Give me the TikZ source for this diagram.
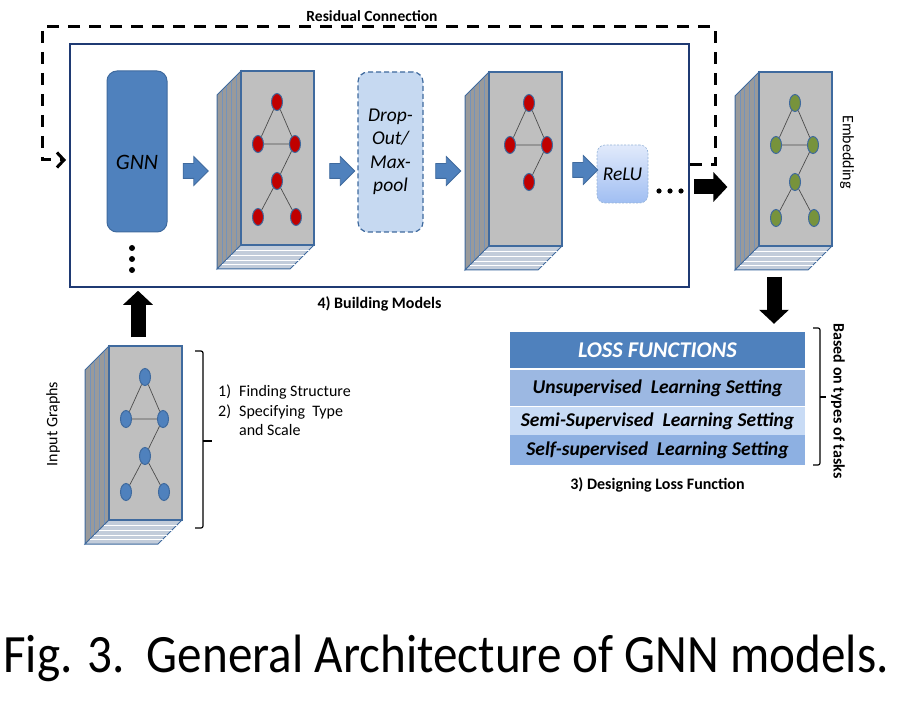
\documentclass[tikz,border=0pt]{standalone}
\usepackage{fontspec}
\usepackage{graphicx}
\setmainfont{Carlito}
\usepackage{tikz}
\usetikzlibrary{arrows.meta,positioning,shapes.geometric,shapes.arrows}
\definecolor{gnnblue}{HTML}{4F81BD}
\definecolor{edgeblue}{HTML}{3F6A9E}
\definecolor{navy}{HTML}{1F3A73}
\definecolor{facegray}{HTML}{BFBFBF}
\definecolor{sidegray}{HTML}{9A9A9A}
\definecolor{sidestripe}{HTML}{7393BC}
\definecolor{floorgray}{HTML}{C2CCDA}
\definecolor{nodered}{HTML}{C00000}
\definecolor{nodegreen}{HTML}{77933C}
\definecolor{dropfill}{HTML}{C6D9F1}
\definecolor{relutop}{HTML}{E1EAFB}
\definecolor{relubottom}{HTML}{A0BEF2}
\definecolor{lossrowa}{HTML}{9CB8E2}
\definecolor{lossrowb}{HTML}{C8DBF5}
\definecolor{lossrowc}{HTML}{8DB0E2}
\tikzstyle{front}=[draw=edgeblue, fill=facegray, line width=1.2pt, minimum width=73pt, minimum height=174pt, inner sep=0]
\tikzstyle{vtx}=[ellipse, draw=edgeblue, line width=1pt, inner sep=0, minimum width=11pt, minimum height=17pt]
\tikzstyle{gedge}=[draw=black!70, line width=0.7pt]
\tikzstyle{gnnbox}=[draw=edgeblue, fill=gnnblue, line width=1pt, rounded corners=10pt, minimum width=60pt, minimum height=161pt]
\tikzstyle{dropbox}=[draw=edgeblue, fill=dropfill, line width=1.2pt, dash pattern=on 5pt off 3pt, rounded corners=10pt, minimum width=65pt, minimum height=160pt, align=center, font=\itshape\fontsize{19.5}{23.5}\selectfont]
\tikzstyle{relubox}=[draw=gnnblue!60, dash pattern=on 2pt off 1.5pt, line width=0.6pt, top color=relutop, bottom color=relubottom, rounded corners=8pt, minimum width=51pt, minimum height=58pt, font=\itshape\fontsize{19.5}{22}\selectfont]
\tikzstyle{bluearrow}=[single arrow, draw=edgeblue, fill=gnnblue, line width=0.8pt, minimum height=25pt, minimum width=28pt, single arrow head extend=7pt, inner xsep=0, inner ysep=7pt]
\tikzstyle{fatarrow}=[line width=15pt, -{Triangle[width=29pt,length=14pt]}]
\tikzstyle{resid}=[line width=3pt, dash pattern=on 12pt off 9pt, -{Straight Barb[length=7pt,width=15pt]}]
\tikzstyle{label}=[inner sep=0, font=\fontsize{16}{19}\selectfont]
\tikzstyle{boldlabel}=[inner sep=0, font=\bfseries\fontsize{16}{19}\selectfont]
\tikzstyle{losshead}=[fill=gnnblue, text=white, inner sep=0, minimum width=295pt, minimum height=37pt, font=\bfseries\itshape\fontsize{22.5}{26}\selectfont]
\tikzstyle{lossrow}=[inner sep=0, minimum width=295pt, font=\bfseries\itshape\fontsize{19.5}{22}\selectfont]
\tikzstyle{brace}=[line width=1.2pt, rounded corners=2pt]
\newcommand{\stackfaces}[1]{%
  \filldraw[fill=sidegray, draw=edgeblue, line width=1pt] (-24,24) -- (0,0) -- (0,174) -- (-24,198) -- cycle;
  \foreach \d in {5,10,15,19} \draw[sidestripe, line width=0.8pt] (-\d,\d) -- (-\d,174+\d);
  \filldraw[fill=floorgray, draw=edgeblue, line width=1pt] (0,174) -- (73,174) -- (49,198) -- (-24,198) -- cycle;
  \foreach \d in {5,10,15,19} \draw[white, line width=0.8pt] (-\d,174+\d) -- (73-\d,174+\d);
  \node[front] (#1) at (36.5,87) {};
}
\newcommand{\graphnodes}[2]{%
  \node[vtx, fill=#2] (#1t) at (36,31) {};
  \node[vtx, fill=#2] (#1l) at (17,73) {};
  \node[vtx, fill=#2] (#1r) at (54,73) {};
  \node[vtx, fill=#2] (#1m) at (36,110) {};
  \draw[gedge] (#1t) -- (#1l) -- (#1r) -- (#1t) (#1r) -- (#1m);
}
\newcommand{\graphtail}[2]{%
  \node[vtx, fill=#2] (#1a) at (17,146) {};
  \node[vtx, fill=#2] (#1b) at (55,146) {};
  \draw[gedge] (#1m) -- (#1a) (#1m) -- (#1b);
}
\begin{document}
\begin{tikzpicture}[x=1pt,y=-1pt,font=\fontsize{16}{19}\selectfont]
\useasboundingbox (0,0) rectangle (915,703);

\node[draw=navy, line width=1.5pt, minimum width=619pt, minimum height=243pt] (model) at (379.5,165.5) {};
\node[boldlabel, below=9pt of model] (build) {4) Building Models};

\node[gnnbox] (gnn) at (137,151.5) {};
\node[font=\itshape\fontsize{22}{26}\selectfont] (gnntxt) at (137,162) {GNN};
\foreach \y in {248,259,270} \fill (132,\y) circle (3);

\begin{scope}[shift={(241,71)}]
  \stackfaces{sa}
  \graphnodes{a}{nodered}
  \graphtail{a}{nodered}
\end{scope}

\node[dropbox] (drop) at (390.5,152) {Drop-\\Out/\\Max-\\pool};

\begin{scope}[shift={(489,72)}]
  \stackfaces{sb}
  \begin{scope}[shift={(4,0)}]
    \graphnodes{b}{nodered}
  \end{scope}
\end{scope}

\node[relubox] (relu) at (622.5,174) {ReLU};
\foreach \x in {659,670,681} \fill (\x,191) circle (2.6);

\node[bluearrow] (arra) at (192,171) {};
\node[bluearrow] (arrb) at (338.5,171) {};
\node[bluearrow] (arrc) at (444.5,171) {};
\node[bluearrow] (arrd) at (581.5,170) {};

\begin{scope}[shift={(759,72)}]
  \stackfaces{emb}
  \graphnodes{e}{nodegreen}
  \graphtail{e}{nodegreen}
\end{scope}
\node[label, rotate=-90] (embtxt) at (847,152) {Embedding};

\begin{scope}[shift={(109,346)}]
  \stackfaces{inp}
  \graphnodes{i}{gnnblue}
  \graphtail{i}{gnnblue}
\end{scope}
\node[label, rotate=90] (intxt) at (53,424) {Input Graphs};

\draw[brace] (195,351) -- (203,351) -- (203,528) -- (195,528);
\draw[line width=1.2pt] (203,441) -- (212,441);
\node[label, anchor=north west] (steps) at (218,383) {\fontsize{16}{19.5}\selectfont
  \begin{tabular}{@{}l@{\hspace{8pt}}l@{}}1) & Finding Structure\\ 2) & Specifying~~Type\\ & and Scale\end{tabular}};

\coordinate (resout) at (690,165);
\coordinate (resin) at (66,160);
\draw[resid] (resout) -- (715,165) -- (715,27) -- (42,27) -- (42,160) -- (resin);
\node[boldlabel, font=\bfseries\fontsize{15.5}{18}\selectfont] (restxt) at (372,16) {Residual Connection};

\node[losshead] (loss) at (657.5,350.5) {LOSS FUNCTIONS};
\node[lossrow, fill=lossrowa, minimum height=37pt, below=0pt of loss] (lossa) {Unsupervised~~Learning Setting};
\node[lossrow, fill=lossrowb, minimum height=28pt, below=0pt of lossa] (lossb) {Semi-Supervised~~Learning Setting};
\node[lossrow, fill=lossrowc, minimum height=30pt, below=0pt of lossb] (lossc) {Self-supervised~~Learning Setting};
\draw[white, line width=1.5pt] (loss.south west) -- (loss.south east);
\node[boldlabel, below=12pt of lossc] (losstxt) {3) Designing Loss Function};
\draw[brace] (813,328) -- (820,328) -- (820,465) -- (813,465);
\draw[line width=1.2pt] (820,397) -- (826,397);
\node[boldlabel, rotate=-90] (tasks) at (838,401) {Based on types of tasks};

\coordinate (upcol) at (138,0);
\coordinate (embrow) at (0,187);
\coordinate (downcol) at (774,0);
\draw[fatarrow] ([yshift=8pt]inp.north -| upcol) -- ([yshift=-3pt]model.south -| upcol);
\draw[fatarrow] ([xshift=4pt]model.east |- embrow) -- ([xshift=-31pt]emb.west |- embrow);
\draw[fatarrow] ([yshift=-30pt]emb.south -| downcol) -- ([yshift=8pt]loss.north -| downcol);

\node (caption) at (446,658) {\fontsize{54}{60}\selectfont\scalebox{0.91}[1]{Fig. 3.~~General Architecture of GNN models.}};
\end{tikzpicture}
\end{document}
